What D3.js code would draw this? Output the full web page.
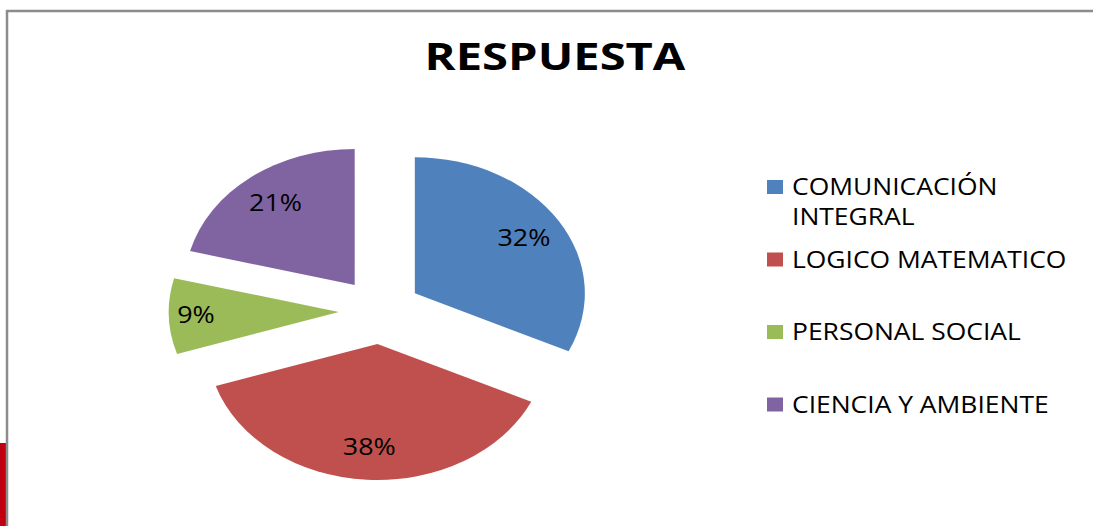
<!DOCTYPE html>
<html>
<head>
<meta charset="utf-8">
<script src="https://cdn.jsdelivr.net/npm/d3@7"></script>
<style>
  body { margin: 0; background: #fff; }
  text { font-family: "Open Sans", sans-serif; fill: #000; }
</style>
</head>
<body>
<svg id="chart" width="1093" height="526"></svg>
<script>
// data
var categories = ["COMUNICACIÓN INTEGRAL", "LOGICO MATEMATICO", "PERSONAL SOCIAL", "CIENCIA Y AMBIENTE"];
var legendLines = [["COMUNICACIÓN", "INTEGRAL"], ["LOGICO MATEMATICO"], ["PERSONAL SOCIAL"], ["CIENCIA Y AMBIENTE"]];
var values = [32, 38, 9, 21];
var colors = ["#4F81BD", "#C0504D", "#9BBB59", "#8064A2"];

var svg = d3.select("#chart");

// slide remnants: red block and frame
svg.append("rect").attr("x", 0).attr("y", 443).attr("width", 6).attr("height", 83).attr("fill", "#c00010");
svg.append("line").attr("x1", 6).attr("x2", 1093).attr("y1", 11).attr("y2", 11)
    .attr("stroke", "#8c8c8c").attr("stroke-width", 2.5);
svg.append("line").attr("x1", 7).attr("x2", 7).attr("y1", 10).attr("y2", 526)
    .attr("stroke", "#8c8c8c").attr("stroke-width", 2.5);

// title
svg.append("text")
    .attr("transform", "translate(555,70) scale(1.24,1)")
    .attr("text-anchor", "middle")
    .style("font-size", "38px")
    .style("font-weight", "bold")
    .text("RESPUESTA");

// pie (drawn round then stretched sideways, like the original)
var cx = 380, cy = 311, r = 136, explode = 33, stretch = 1.25;

var pie = d3.pie().sort(null).value(function (d) { return d; });
var arcs = pie(values);
var arc = d3.arc().innerRadius(0).outerRadius(r);
var labelArc = d3.arc().innerRadius(explode + 0.76 * r).outerRadius(explode + 0.76 * r);

var g = svg.append("g")
    .attr("transform", "translate(" + cx + "," + cy + ") scale(" + stretch + ",1)");

g.selectAll("path")
    .data(arcs)
    .enter()
    .append("path")
    .attr("d", arc)
    .attr("fill", function (d, i) { return colors[i]; })
    .attr("transform", function (d) {
        var a = (d.startAngle + d.endAngle) / 2;
        return "translate(" + (Math.sin(a) * explode) + "," + (-Math.cos(a) * explode) + ")";
    });

// data labels
var total = d3.sum(values);
svg.selectAll("text.lbl")
    .data(arcs)
    .enter()
    .append("text")
    .attr("class", "lbl")
    .attr("text-anchor", "middle")
    .attr("transform", function (d) {
        var c = labelArc.centroid(d);
        // the small slice's label sits a little further out
        var k = d.value < 10 ? 1.08 : 1;
        return "translate(" + (cx + c[0] * stretch * k) + "," + (cy + c[1] + 8) + ") scale(1.12,1)";
    })
    .style("font-size", "24px")
    .text(function (d) { return Math.round(d.value / total * 100) + "%"; });

// legend
var legendY = [187, 259.5, 332, 404.5];
var legend = svg.selectAll("g.leg")
    .data(categories)
    .enter()
    .append("g")
    .attr("class", "leg")
    .attr("transform", function (d, i) { return "translate(767," + legendY[i] + ")"; });

legend.append("rect")
    .attr("x", 0).attr("y", -7)
    .attr("width", 16).attr("height", 14)
    .attr("fill", function (d, i) { return colors[i]; });

legend.each(function (d, i) {
    var t = d3.select(this);
    legendLines[i].forEach(function (line, j) {
        t.append("text")
            .attr("transform", "translate(25," + (8 + j * 30) + ") scale(1.15,1)")
            .style("font-size", "23px")
            .text(line);
    });
});
</script>
</body>
</html>
